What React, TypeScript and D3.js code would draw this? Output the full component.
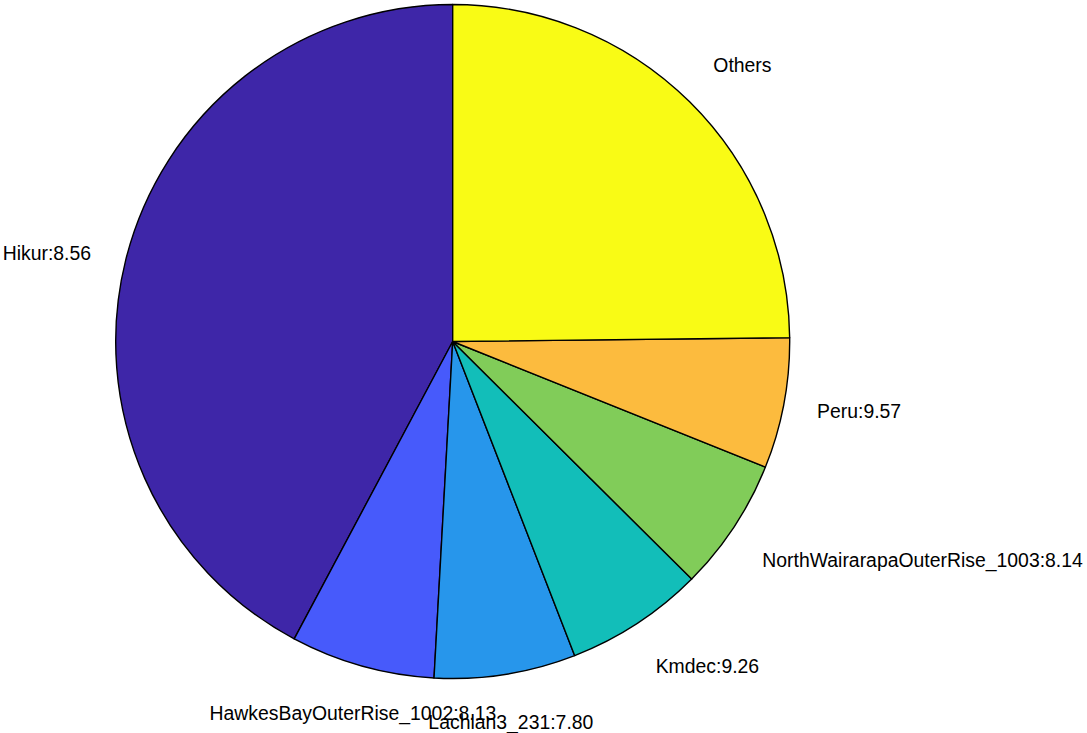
import React from "react";
import * as d3 from "d3";

const categories = [
  "Hikur",
  "HawkesBayOuterRise_1002",
  "Lachlan3_231",
  "Kmdec",
  "NorthWairarapaOuterRise_1003",
  "Peru",
  "Others",
];
const magnitudes = ["8.56", "8.13", "7.80", "9.26", "8.14", "9.57", ""];
const shares = [42.21, 6.91, 6.78, 6.65, 6.375, 6.26, 24.82];
const colors = [
  "#3e26a8",
  "#475afb",
  "#2796eb",
  "#12beb9",
  "#81cc59",
  "#fcbb3e",
  "#f9fb15",
];

const W = 1087;
const H = 733;
const CX = 452.7;
const CY = 341.5;
const R = 337;
const FONT = 19.4;

export default function App() {
  const pie = d3
    .pie<number>()
    .sort(null)
    .value((d) => d)
    .startAngle(0)
    .endAngle(-2 * Math.PI);
  const arcs = pie(shares);
  const arcGen = d3.arc<d3.PieArcDatum<number>>().innerRadius(0).outerRadius(R);

  return (
    <svg
      width={W}
      height={H}
      style={{ position: "absolute", left: 0, top: 0, background: "#fff" }}
      fontFamily="'Liberation Sans', Arial, sans-serif"
      fontSize={FONT}
    >
      <g transform={`translate(${CX},${CY})`}>
        {arcs.map((a, i) => (
          <path
            key={categories[i]}
            d={arcGen(a) || ""}
            fill={colors[i]}
            stroke="#000"
            strokeWidth={1.4}
            strokeLinejoin="round"
          />
        ))}
        {arcs.map((a, i) => {
          const mid = (a.startAngle + a.endAngle) / 2;
          const s = Math.sin(mid);
          const c = Math.cos(mid);
          const lr = R * 1.1;
          const x = lr * s;
          const y = -lr * c;
          let anchor: "start" | "middle" | "end" = "middle";
          let tx = x;
          if (s > 0.35) anchor = "start";
          else if (s < -0.35) {
            anchor = "end";
            tx = x - 2;
          }
          let dy = 8;
          if (c > 0.4) dy = -5.6;
          else if (c < -0.4) dy = 21.7;
          const label = magnitudes[i] ? `${categories[i]}:${magnitudes[i]}` : categories[i];
          return (
            <text key={"t" + i} x={tx} y={y + dy} textAnchor={anchor} fill="#000">
              {label}
            </text>
          );
        })}
      </g>
    </svg>
  );
}
